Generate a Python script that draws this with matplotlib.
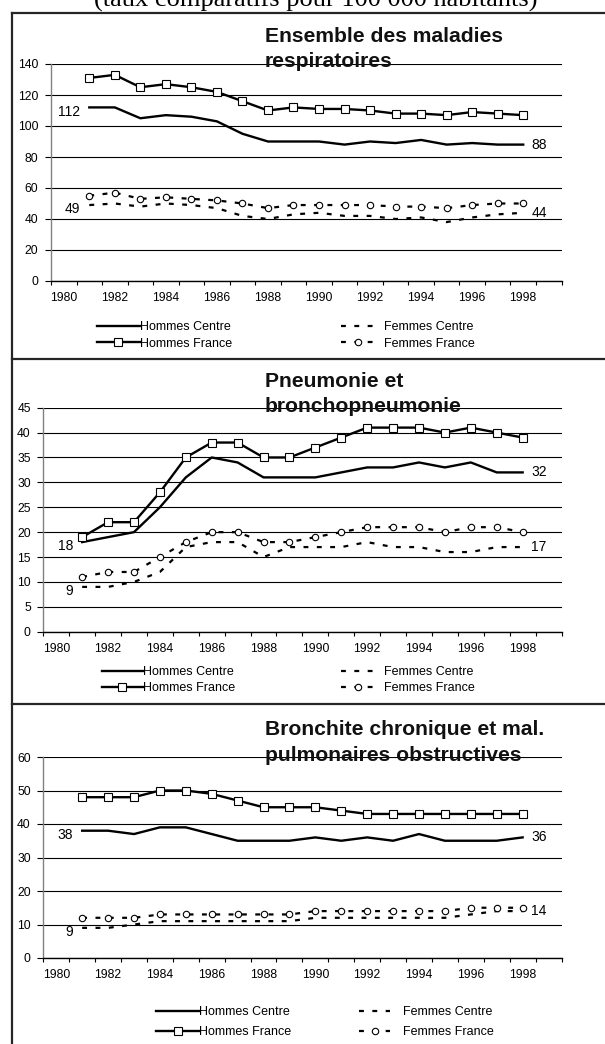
import matplotlib
matplotlib.use('Agg')
import matplotlib.pyplot as plt
from matplotlib.lines import Line2D

plt.rcParams['font.family'] = ['Liberation Sans', 'DejaVu Sans']

# ---------------- data ----------------
YEARS = [1981, 1982, 1983, 1984, 1985, 1986, 1987, 1988, 1989,
         1990, 1991, 1992, 1993, 1994, 1995, 1996, 1997, 1998]
TICK_YEARS = [1980, 1982, 1984, 1986, 1988, 1990, 1992, 1994, 1996, 1998]
TICK_LABELS = ['1980', '1982', '1984', '1986', '1988', '1990', '1992', '1994', '1996', '1998']
SERIES_NAMES = ['Hommes Centre', 'Hommes France', 'Femmes Centre', 'Femmes France']
HEADER = '(taux comparatifs pour 100 000 habitants)'

TITLES = [('Ensemble des maladies', 'respiratoires'),
          ('Pneumonie et', 'bronchopneumonie'),
          ('Bronchite chronique et mal.', 'pulmonaires obstructives')]

# panel 1 : ensemble des maladies respiratoires
hommes_centre_1 = [112, 112, 105, 107, 106, 103, 95, 90, 90, 90, 88, 90, 89, 91, 88, 89, 88, 88]
hommes_france_1 = [131, 133, 125, 127, 125, 122, 116, 110, 112, 111, 111, 110, 108, 108, 107, 109, 108, 107]
femmes_centre_1 = [49, 50, 48, 50, 49, 47, 42, 40, 43, 44, 42, 42, 40, 41, 38, 41, 43, 44]
femmes_france_1 = [55, 57, 53, 54, 53, 52, 50, 47, 49, 49, 49, 49, 48, 48, 47, 49, 50, 50]

# panel 2 : pneumonie et bronchopneumonie
hommes_centre_2 = [18, 19, 20, 25, 31, 35, 34, 31, 31, 31, 32, 33, 33, 34, 33, 34, 32, 32]
hommes_france_2 = [19, 22, 22, 28, 35, 38, 38, 35, 35, 37, 39, 41, 41, 41, 40, 41, 40, 39]
femmes_centre_2 = [9, 9, 10, 12, 17, 18, 18, 15, 17, 17, 17, 18, 17, 17, 16, 16, 17, 17]
femmes_france_2 = [11, 12, 12, 15, 18, 20, 20, 18, 18, 19, 20, 21, 21, 21, 20, 21, 21, 20]

# panel 3 : bronchite chronique et mal. pulmonaires obstructives
hommes_centre_3 = [38, 38, 37, 39, 39, 37, 35, 35, 35, 36, 35, 36, 35, 37, 35, 35, 35, 36]
hommes_france_3 = [48, 48, 48, 50, 50, 49, 47, 45, 45, 45, 44, 43, 43, 43, 43, 43, 43, 43]
femmes_centre_3 = [9, 9, 10, 11, 11, 11, 11, 11, 11, 12, 12, 12, 12, 12, 12, 13, 14, 14]
femmes_france_3 = [12, 12, 12, 13, 13, 13, 13, 13, 13, 14, 14, 14, 14, 14, 14, 15, 15, 15]

Y_MAX = [140, 45, 60]
Y_STEP = [20, 5, 10]

PANEL_DATA = [
    (hommes_centre_1, hommes_france_1, femmes_centre_1, femmes_france_1),
    (hommes_centre_2, hommes_france_2, femmes_centre_2, femmes_france_2),
    (hommes_centre_3, hommes_france_3, femmes_centre_3, femmes_france_3),
]

# ---------------- layout (pixels) ----------------
W, H, DPI = 605, 1044, 100
fig = plt.figure(figsize=(W / DPI, H / DPI), dpi=DPI)

AX_BOX = [(51, 64, 561.5, 281),        # left, top, right, bottom
          (43.3, 407.7, 561.5, 631.7),
          (43.3, 757, 561.5, 958)]
TITLE_BASE = [(42, 67), (387, 412), (735, 761)]
TITLE_X = 265
# legend columns: (handle start x, handle length px, text pad px)
LEG_COL1 = [(97, 43, 0), (101.7, 41.5, 0), (156, 43, 0)]
LEG_COL2 = [(341, 33, 10), (341, 33, 10), (359, 31, 13)]
LEG_MID_Y = [335.5, 680, 1022]
LEG_SPACING = [0.35, 0.32, 0.65]

DASH = (0, (2.2, 3.8))
STYLES = [
    dict(color='black', lw=1.7, ls='-'),
    dict(color='black', lw=1.7, ls='-', marker='s', ms=5.5, mfc='white', mec='black', mew=0.8),
    dict(color='black', lw=1.6, ls=DASH),
    dict(color='black', lw=1.6, ls=DASH, marker='o', ms=4.6, mfc='white', mec='black', mew=0.8),
]

TICK_FS = 8.7
LEG_FS = 9
ANN_FS = 10
TITLE_FS = 15.2
PX_PER_FS = LEG_FS * DPI / 72


def fx(x):
    return x / W


def fy(y):
    return 1 - y / H


for i in range(3):
    l, t, r, b = AX_BOX[i]
    ax = fig.add_axes([fx(l), fy(b), (r - l) / W, (b - t) / H])
    hc, hf, fc, ff = PANEL_DATA[i]
    handles = []
    for series, st, name in zip((hc, hf, fc, ff), STYLES, SERIES_NAMES):
        ln, = ax.plot(YEARS, series, label=name, zorder=3, **st)
        handles.append(ln)

    ax.set_xlim(1979.5, 1999.5)
    ax.set_ylim(0, Y_MAX[i])
    ax.set_yticks(list(range(0, Y_MAX[i] + 1, Y_STEP[i])))
    ax.yaxis.grid(True, color='black', lw=0.8)
    ax.set_axisbelow(True)
    for s in ('top', 'right'):
        ax.spines[s].set_visible(False)
    ax.spines['left'].set_color('#808080')
    ax.spines['left'].set_linewidth(1.0)
    ax.spines['bottom'].set_color('black')
    ax.spines['bottom'].set_linewidth(1.0)

    ax.set_xticks(TICK_YEARS)
    ax.set_xticklabels(TICK_LABELS)
    ax.set_xticks([1979.5 + k for k in range(21)], minor=True)
    ax.tick_params(axis='x', which='major', length=0, pad=8.2, labelsize=TICK_FS)
    ax.tick_params(axis='x', which='minor', length=3, width=0.8, direction='out', color='black')
    ax.tick_params(axis='y', length=4, width=0.8, color='black', pad=5, labelsize=TICK_FS)

    # value labels at both ends of the "Centre" series
    for series in (hc, fc):
        ax.annotate(str(series[0]), (YEARS[0], series[0]), xytext=(-6.5, -3),
                    textcoords='offset points', ha='right', va='center', fontsize=ANN_FS)
        ax.annotate(str(series[-1]), (YEARS[-1], series[-1]), xytext=(6, 0),
                    textcoords='offset points', ha='left', va='center', fontsize=ANN_FS)

    # titles
    fig.text(fx(TITLE_X), fy(TITLE_BASE[i][0]), TITLES[i][0], fontsize=TITLE_FS,
             fontweight='bold', ha='left', va='baseline', color='#111111')
    fig.text(fx(TITLE_X), fy(TITLE_BASE[i][1]), TITLES[i][1], fontsize=TITLE_FS,
             fontweight='bold', ha='left', va='baseline', color='#111111')

    # legends: two columns
    for cols, (xpos, hlen, tpad) in (((0, 1), LEG_COL1[i]), ((2, 3), LEG_COL2[i])):
        fig.legend([handles[c] for c in cols], [SERIES_NAMES[c] for c in cols],
                   loc='center left', bbox_to_anchor=(fx(xpos), fy(LEG_MID_Y[i])),
                   frameon=False, borderpad=0, borderaxespad=0,
                   handlelength=hlen / PX_PER_FS, handletextpad=tpad / PX_PER_FS,
                   labelspacing=LEG_SPACING[i], fontsize=LEG_FS)

# header (cut at the top of the image, as in the source)
fig.text(fx(316), fy(7), HEADER, family=['Liberation Serif', 'DejaVu Serif'],
         fontsize=19, ha='center', va='baseline')

# frame lines
FRAME_C = '#262626'
fig.add_artist(Line2D([fx(12.3), fx(12.3)], [fy(13.3), 0], transform=fig.transFigure,
                      color=FRAME_C, lw=1.6))
for yy in (13.3, 359.3, 704):
    fig.add_artist(Line2D([fx(12.3), 1], [fy(yy), fy(yy)], transform=fig.transFigure,
                          color=FRAME_C, lw=1.6))

fig.savefig('out.png', dpi=DPI)
